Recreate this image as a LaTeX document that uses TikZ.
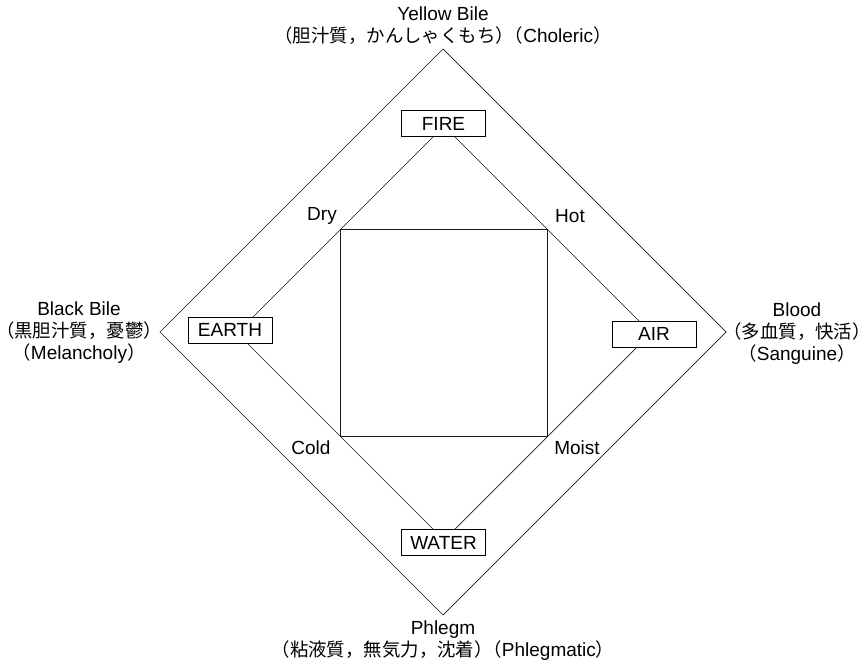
\documentclass[tikz,border=0pt]{standalone}
\usepackage{fontspec}
\setmainfont{Liberation Sans}
\newfontfamily\jp[Scale=0.97]{Noto Sans CJK JP}
\newcommand{\jph}[1]{{\jp #1}}
\begin{document}
\begin{tikzpicture}[x=1pt,y=-1pt,
  ln/.style={line width=0.7pt,black!90},
  elem/.style={draw,line width=0.7pt,fill=white,minimum width=84pt,minimum height=26pt,inner sep=0pt,font=\fontsize{19}{21}\selectfont},
  lbl/.style={font=\fontsize{19}{21}\selectfont,inner sep=0pt},
  hum/.style={font=\fontsize{19}{22}\selectfont,align=center,inner sep=0pt}]
\useasboundingbox (0,0) rectangle (863,666);
% outer diamond
\coordinate (ot) at (443,49);
\coordinate (ol) at (160,332);
\coordinate (or) at (726,332);
\coordinate (ob) at (443,615);
\draw[ln] (ot) -- (or) -- (ob) -- (ol) -- cycle;
% inner diamond
\coordinate (it) at (444,126);
\coordinate (il) at (237,333);
\coordinate (ir) at (651,333);
\coordinate (ib) at (444,540);
\draw[ln] (it) -- (ir) -- (ib) -- (il) -- cycle;
% inner square
\coordinate (sq1) at (340.5,229.5);
\coordinate (sq2) at (547.5,436.5);
\draw[ln] (sq1) rectangle (sq2);
% element boxes
\node[elem] (fire) at (443.5,123.5) {FIRE};
\node[elem] (earth) at (230,330) {EARTH};
\node[elem] (air) at (654,334) {AIR};
\node[elem] (water) at (443.5,542.5) {WATER};
% qualities
\node[lbl] (dry) at (322,216) {Dry};
\node[lbl] (hot) at (570,216) {Hot};
\node[lbl] (cold) at (311,448) {Cold};
\node[lbl] (moist) at (577,448) {Moist};
% humours
\node[hum] (yellow) at (443,26) {Yellow Bile\\\jph{（胆汁質，かんしゃくもち）\kern-0.5em（}Choleric\jph{）}};
\node[hum] (black) at (79,333) {Black Bile\\\jph{（黒胆汁質，憂鬱）}\\\jph{（}Melancholy\jph{）}};
\node[hum] (blood) at (797,334) {Blood\\\jph{（多血質，快活）}\\\jph{（}Sanguine\jph{）}};
\node[hum] (phlegm) at (443,641) {Phlegm\\\jph{（粘液質，無気力，沈着）\kern-0.5em（}Phlegmatic\jph{）}};
\end{tikzpicture}
\end{document}
